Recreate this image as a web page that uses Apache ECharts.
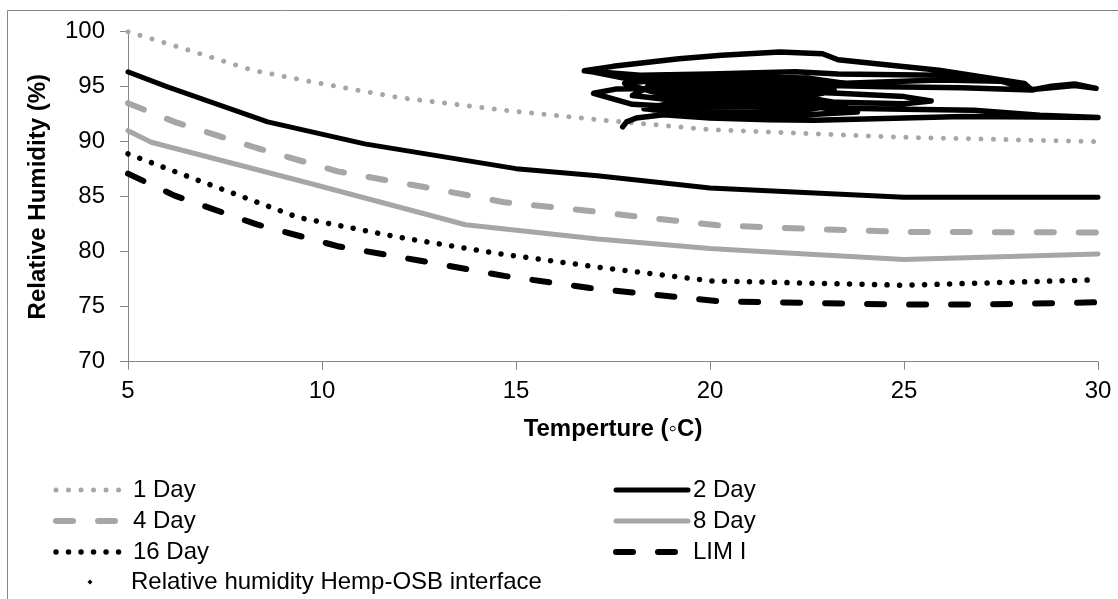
<!DOCTYPE html>
<html><head><meta charset="utf-8">
<script src="https://cdn.jsdelivr.net/npm/echarts@6/dist/echarts.min.js"></script>
<style>html,body{margin:0;padding:0;background:#fff}#c{width:1118px;height:599px}</style>
</head><body><div id="c"></div>
<script>
// ---- data (temperature °C, relative humidity %) ----
const day1  = [[5,100],[6.4,98.5],[8.2,96.5],[9.8,95.4],[12,94.0],[14.6,92.9],[17.1,92.0],[20,91.1],[25,90.4],[30,90.0]];
const day2  = [[5,96.35],[6,95.0],[8.6,91.8],[11.1,89.8],[15,87.55],[17.1,86.9],[20,85.8],[25,84.95],[30,84.95]];
const day4  = [[5,93.5],[6.2,91.8],[8.3,89.45],[10.4,87.3],[12.6,85.9],[14.7,84.5],[16.9,83.7],[18,83.25],[20.2,82.4],[22.4,82.1],[25,81.8],[30,81.75]];
const day8  = [[5,91.0],[5.6,89.95],[9.7,86.2],[13.7,82.45],[17.1,81.15],[20,80.3],[21.2,80.05],[25,79.3],[30,79.8]];
const day16 = [[5,88.9],[6.8,86.5],[9.4,83.1],[12,81.3],[14.6,79.8],[17.1,78.6],[20,77.35],[25,76.95],[30,77.45]];
const limI  = [[5,87.1],[6.2,85.1],[8.3,82.5],[10.4,80.5],[12.5,79.2],[14.7,77.8],[16.9,76.7],[18,76.3],[20.2,75.5],[22.4,75.35],[25,75.2],[27,75.2],[30,75.4]];
const hemp  = [
 [17.75,91.35],[17.85,91.8],[18.1,92.15],[18.8,92.45],[20.0,92.15],[21.5,92.0],[22.7,91.95],[24.5,92.1],[26.5,92.3],[28.5,92.25],[30.0,92.2],
 [28.5,92.4],[26.8,92.85],[25.0,92.95],[23.5,93.05],[21.5,93.2],[19.5,93.1],[18.0,93.4],[17.0,94.4],
 [17.6,94.8],[19.5,94.9],[21.5,94.65],[23.3,94.4],[25.0,94.1],[25.7,93.7],[25.0,93.45],[23.0,93.6],[21.0,93.5],[19.0,93.8],[18.0,94.2],
 [18.4,94.95],[20.0,95.25],[22.5,95.15],[24.5,95.0],[26.5,94.9],[28.3,94.7],[28.8,95.05],[29.4,95.25],[29.95,94.85],
 [29.4,95.1],[28.3,94.75],[27.5,95.5],[25.9,95.6],[23.3,95.3],[21.0,95.65],[19.0,95.75],[17.8,95.3],[18.5,94.55],[20.5,94.25],[22.5,94.0],[23.5,93.4],[22.0,92.7],[19.5,92.6],[18.3,93.0],
 [19.0,93.5],[21.5,93.9],[23.2,94.7],[21.5,95.2],[19.0,95.3],[18.2,95.8],
 [16.76,96.45],[17.5,96.85],[19.2,97.55],[20.3,97.85],[21.8,98.15],[22.9,98.0],[23.3,97.45],[25.9,96.5],[28.1,95.3],[28.3,94.7],
 [27.5,95.5],[25.9,96.05],[23.3,96.15],[22.2,96.35],[20.0,96.15],[18.2,96.05],[16.9,96.4],
 [18.2,95.5],[20.5,95.45],[22.8,95.6],[23.0,95.1],[21.0,94.95],[18.8,94.6],[19.0,94.1],[21.0,94.1],[22.8,93.85],[21.0,93.3],[19.0,93.3],
 [18.5,92.9],[20.5,92.4],[22.5,92.45],[23.8,92.7],[22.0,93.45],[19.8,93.6],[18.6,94.3],
 [19.5,94.0],[21.8,93.9],[22.9,94.4],[21.0,94.6],[19.2,94.4],[18.4,95.1],[20.5,95.9],[22.5,95.8],[23.5,95.3],[22.0,95.35]
];
const xTicks = {min:5, max:30, step:5};
const yTicks = {min:70, max:100, step:5};
const names = ['1 Day','2 Day','4 Day','8 Day','16 Day','LIM I','Relative humidity Hemp-OSB interface'];

const GRAY = '#a6a6a6', AX = '#868686', FONT = '"Liberation Sans", Arial, sans-serif';
const chart = echarts.init(document.getElementById('c'), null, {renderer:'canvas'});
const dotted = [0.01, 12.5], dashed = [17, 25];
const widths = {'1 Day':5, '2 Day':5, '4 Day':6, '8 Day':5, '16 Day':5.5, 'LIM I':6};
function ln(name, data, color, type){
  return {name, type:'line', data, symbol:'none', smooth:false, silent:true,
    lineStyle:{color, width:widths[name], type, cap:'round', join:'round'}, itemStyle:{color}};
}
function legItem(n){ return {name:n, lineStyle:{width:widths[n]}}; }
const legText = {fontFamily:FONT, fontSize:24, color:'#000'};
chart.setOption({
  animation:false,
  backgroundColor:'#fff',
  graphic:[{type:'rect', shape:{x:7.5,y:10.5,width:1300,height:800}, style:{fill:null, stroke:AX, lineWidth:1}, silent:true}],
  grid:{left:128, right:20, top:31.7, bottom:237.3, containLabel:false},
  xAxis:{type:'value', min:xTicks.min, max:xTicks.max, interval:xTicks.step,
    name:'Temperture (\u25E6C)', nameLocation:'middle', nameGap:56,
    nameTextStyle:{fontFamily:FONT, fontSize:24, fontWeight:'bold', color:'#000'},
    axisLine:{lineStyle:{color:AX, width:1}}, axisTick:{show:true, length:8, lineStyle:{color:AX}},
    axisLabel:{margin:18, fontFamily:FONT, fontSize:24, color:'#000'}, splitLine:{show:false}},
  yAxis:{type:'value', min:yTicks.min, max:yTicks.max, interval:yTicks.step,
    name:'Relative Humidity (%)', nameLocation:'middle', nameGap:78,
    nameTextStyle:{fontFamily:FONT, fontSize:24, fontWeight:'bold', color:'#000'},
    axisLine:{show:true, lineStyle:{color:AX, width:1}}, axisTick:{show:true, length:8, lineStyle:{color:AX}},
    axisLabel:{margin:23, fontFamily:FONT, fontSize:24, color:'#000'}, splitLine:{show:false}},
  legend:[
    {data:[legItem(names[0]),legItem(names[2]),legItem(names[4])], orient:'vertical', left:48, top:473, itemWidth:72, itemHeight:14, itemGap:7,
     textStyle:legText, itemStyle:{opacity:0}, selectedMode:false},
    {data:[legItem(names[1]),legItem(names[3]),legItem(names[5])], orient:'vertical', left:608, top:473, itemWidth:72, itemHeight:14, itemGap:7,
     textStyle:legText, itemStyle:{opacity:0}, selectedMode:false},
    {data:[{name:names[6], icon:'diamond', itemStyle:{color:'#000'}}], orient:'vertical', left:82.5, top:565, itemWidth:5, itemHeight:5,
     textStyle:Object.assign({}, legText, {padding:[0,0,0,33.5]}), selectedMode:false}
  ],
  series:[
    ln(names[0], day1, GRAY, dotted),
    ln(names[1], day2, '#000', 'solid'),
    ln(names[2], day4, GRAY, dashed),
    ln(names[3], day8, GRAY, 'solid'),
    ln(names[4], day16, '#000', dotted),
    ln(names[5], limI, '#000', dashed),
    {name:names[6], type:'line', data:hemp, symbol:'none', silent:true,
     lineStyle:{color:'#000', width:5.5, cap:'round', join:'round'}, itemStyle:{color:'#000'}}
  ]
});
</script></body></html>
